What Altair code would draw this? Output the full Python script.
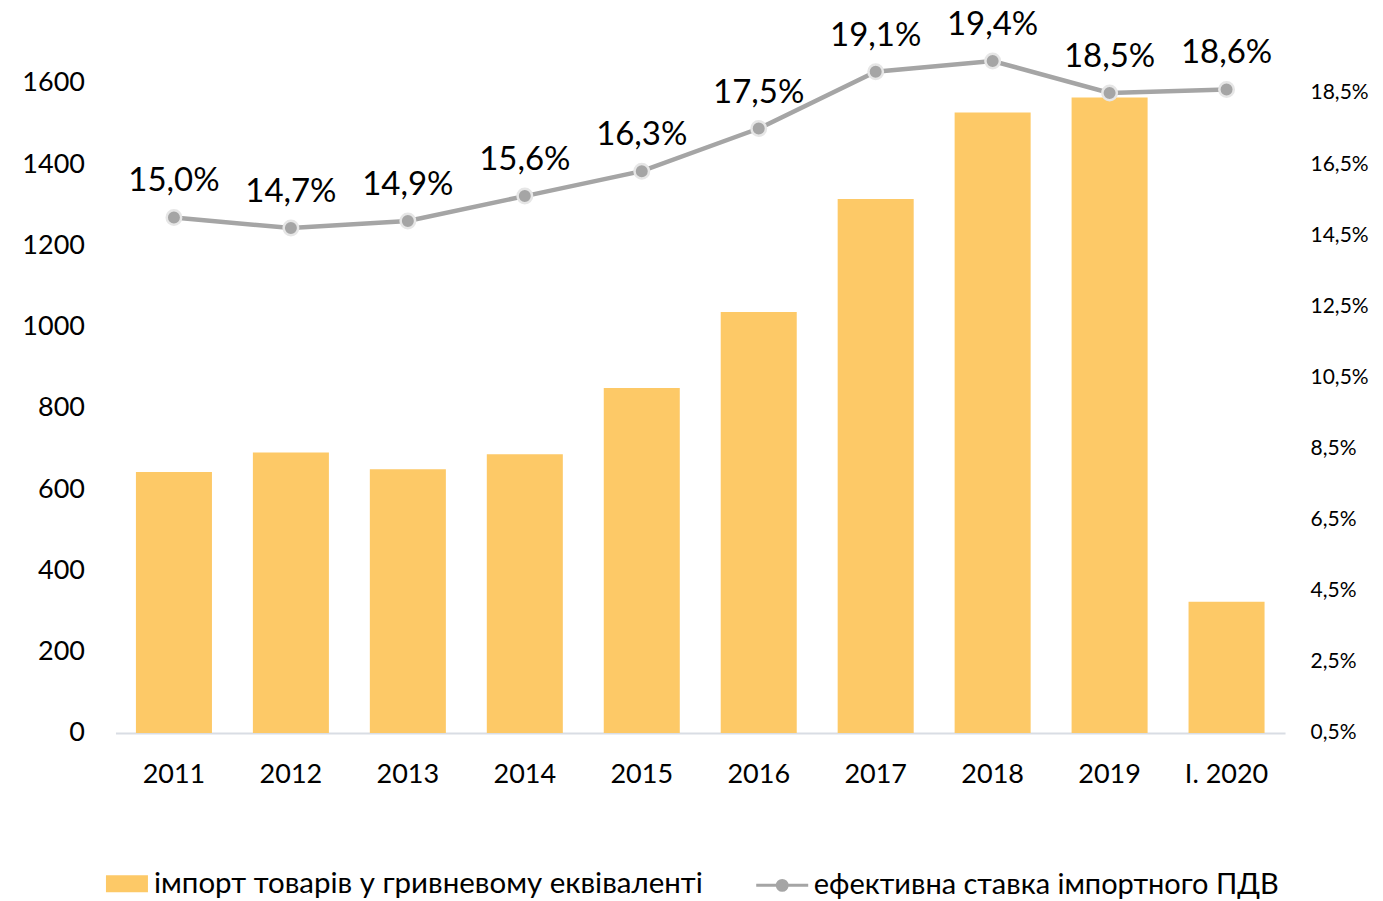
import altair as alt
import pandas as pd

years = ["2011", "2012", "2013", "2014", "2015", "2016", "2017", "2018", "2019", "I. 2020"]
imports = [642, 690, 649, 686, 849, 1036, 1314, 1527, 1564, 323]
rates = [15.0, 14.7, 14.9, 15.6, 16.3, 17.5, 19.1, 19.4, 18.5, 18.6]
bar_name = "імпорт товарів у гривневому еквіваленті"
line_name = "ефективна ставка імпортного ПДВ"
left_ticks = [0, 200, 400, 600, 800, 1000, 1200, 1400, 1600]
right_ticks = [0.5, 2.5, 4.5, 6.5, 8.5, 10.5, 12.5, 14.5, 16.5, 18.5]

df = pd.DataFrame({
    "year": years,
    "imports": imports,
    "rate": rates,
    "bar_series": [bar_name] * len(years),
    "line_series": [line_name] * len(years),
})

FONT = "Lato"
BAR = "#FDC967"
GREY = "#A5A5A5"

x = alt.X(
    "year:N", sort=years, title=None,
    scale=alt.Scale(paddingInner=0.35, paddingOuter=0.175),
    axis=alt.Axis(labelAngle=0, ticks=False, domainColor="#D9DDE4", domainWidth=2,
                  labelPadding=29, labelFontSize=27, labelColor="#000000", labelFont=FONT),
)

yl = alt.Y(
    "imports:Q", title=None,
    scale=alt.Scale(domain=[0, 1700], nice=False),
    axis=alt.Axis(values=left_ticks, grid=False, ticks=False, domain=False, format="d",
                  labelFontSize=27, labelPadding=31, labelColor="#000000", labelFont=FONT),
)

yr = alt.Y(
    "rate:Q", title=None,
    scale=alt.Scale(domain=[0.5, 19.93], nice=False, zero=False),
    axis=alt.Axis(values=right_ticks, orient="right", grid=False, ticks=False, domain=False,
                  labelFontSize=21, labelPadding=25, labelColor="#000000", labelFont=FONT,
                  labelExpr="replace(format(datum.value, '.1f'), '.', ',') + '%'"),
)

bars = alt.Chart(df).mark_bar().encode(
    x=x, y=yl,
    color=alt.Color(
        "bar_series:N",
        scale=alt.Scale(domain=[bar_name], range=[BAR]),
        legend=alt.Legend(orient="none", legendX=-9.5, legendY=821, title=None,
                          symbolType="M-1,-0.405H1V0.405H-1Z", symbolSize=1764,
                          symbolStrokeWidth=0, labelFontSize=29.5, labelFont=FONT,
                          labelColor="#000000", labelOffset=6, padding=0, labelLimit=0),
    ),
)

base = alt.Chart(df).encode(x=x, y=yr)

line = base.mark_line(strokeWidth=4.5).encode(
    stroke=alt.Stroke(
        "line_series:N",
        scale=alt.Scale(domain=[line_name], range=[GREY]),
        legend=alt.Legend(orient="none", legendX=639.5, legendY=816, title=None,
                          symbolType="M-1,0H-0.19M0.19,0H1M0.19,0A0.19,0.19,0,1,1,-0.19,0A0.19,0.19,0,1,1,0.19,0",
                          symbolSize=2704, symbolStrokeWidth=3, symbolFillColor=GREY,
                          labelFontSize=29, labelFont=FONT, labelColor="#000000",
                          labelOffset=4, padding=0, labelLimit=0),
    ),
)

points = base.mark_circle(size=210, color=GREY, stroke="#E6E6E6", strokeWidth=2.5, opacity=1)

labels = base.transform_calculate(
    label="replace(format(datum.rate, '.1f'), '.', ',') + '%'"
).mark_text(dy=-26, baseline="alphabetic", fontSize=33, font=FONT, color="#000000").encode(
    text="label:N",
)

right = alt.layer(line, points, labels)

chart = alt.layer(bars, right).resolve_scale(y="independent").properties(
    width=1170, height=691,
    autosize=alt.AutoSizeParams(type="none"),
    padding={"left": 107.5, "top": 34, "right": 90, "bottom": 168},
).configure_view(stroke=None).configure_legend(symbolBaseFillColor=GREY)

chart.save("out.html", embed_options={"renderer": "svg", "actions": False})
